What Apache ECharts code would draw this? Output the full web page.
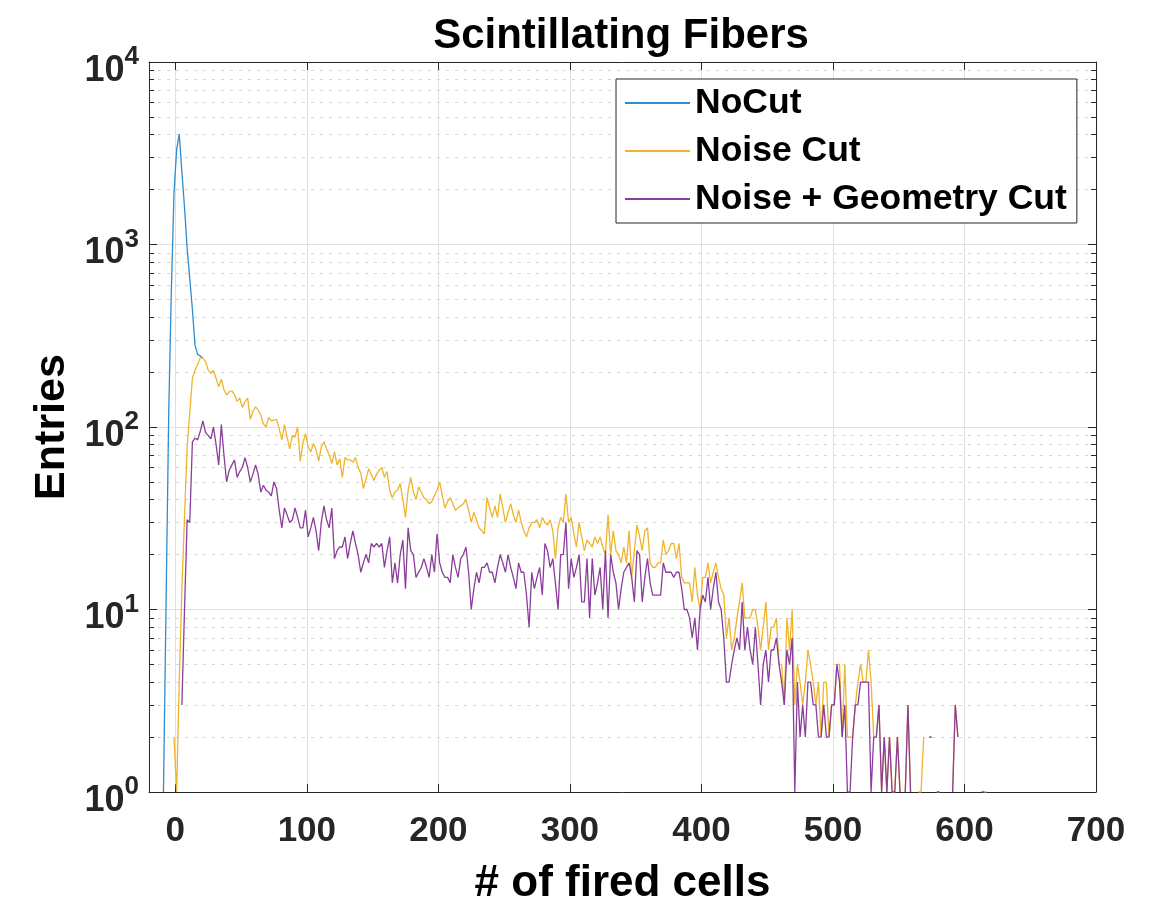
<!DOCTYPE html>
<html><head><meta charset="utf-8">
<script src="https://cdn.jsdelivr.net/npm/echarts@6/dist/echarts.min.js"></script>
<style>html,body{margin:0;padding:0;background:#fff}#c{width:1163px;height:901px}</style>
</head><body><div id="c"></div>
<script>
// ---- data (histogram bins, width 2, values = entries) ----
const binWidth = 2;

const noCutStart = -9;
const noCut = [1, 11, 120, 560, 1900, 3300, 4030, 2500, 1600, 950, 650, 440, 280, 250, 245, 238];

const noiseCutStart = -1;
const noiseCut = [
  2, 1, 4, 13, 32, 78, 120, 185, 205, 220,
  240, 238, 228, 205, 197, 204, 185, 166, 183, 160,
  150, 156, 158, 150, 138, 144, 128, 138, 144, 110,
  122, 129, 124, 116, 104, 100, 113, 108, 109, 110,
  98, 85, 103, 88, 76, 90, 88, 100, 65, 82,
  92, 78, 73, 81, 75, 65, 78, 83, 76, 70,
  63, 73, 62, 67, 53, 68, 66, 66, 64, 68,
  60, 56, 46, 52, 59, 55, 51, 55, 58, 60,
  53, 57, 45, 41, 44, 45, 49, 40, 32, 45,
  53, 44, 40, 47, 44, 41, 40, 38, 39, 42,
  45, 50, 42, 36, 39, 41, 38, 35, 36, 37,
  38, 40, 35, 30, 34, 31, 28, 27, 26, 41,
  36, 32, 37, 32, 43, 36, 30, 34, 38, 33,
  30, 35, 30, 27, 25, 28, 30, 30, 31, 28,
  32, 30, 29, 31, 27, 19, 28, 32, 30, 43,
  30, 32, 26, 22, 30, 25, 21, 24, 23, 22,
  25, 23, 25, 22, 20, 33, 20, 27, 21, 20,
  18, 22, 18, 27, 15, 21, 29, 25, 21, 27,
  28, 18, 17, 17, 18, 18, 24, 20, 21, 23,
  23, 19, 23, 15, 14, 14, 14, 11, 17, 12,
  10, 15, 15, 18, 14, 16, 18, 15, 13, 12,
  7, 9, 6, 7, 9, 11, 14, 9, 9, 9,
  10, 10, 8, 6, 8, 11, 6, 8, 8, 9,
  5, 5, 3, 9, 6, 10, 3, 5, 4, 3,
  4, 6, 5, 4, 3, 4, 2, 4, 4, 2,
  3, 3, 5, 5, 2, 5, 2, 2, 2, 3,
  4, 5, 4, 4, 6, 4, 2, 2, 3, 1,
  2, 1, 2, 1, 1, 2, 1, null, 1, 3,
  1, null, null, 1, 1, 2, null, 2, 2, null,
  1, 1, null, null, null, null, 1, 3, 2, null,
  null, null, null, null, null, null, null, null, 1, 1
];

const geomCutStart = 5;
const geomCut = [
  3, 10, 31, 30, 83, 87, 85, 95, 108, 93,
  90, 86, 100, 80, 62, 103, 70, 50, 58, 62,
  66, 53, 57, 60, 68, 60, 50, 55, 62, 55,
  44, 48, 45, 44, 42, 50, 46, 35, 28, 36,
  33, 30, 31, 36, 32, 28, 28, 35, 25, 28,
  32, 27, 21, 30, 37, 31, 28, 36, 19, 21,
  22, 22, 25, 19, 23, 27, 23, 20, 16, 18,
  20, 18, 23, 22, 23, 22, 23, 17, 21, 25,
  14, 18, 14, 20, 24, 13, 28, 21, 20, 15,
  16, 17, 19, 17, 15, 20, 16, 26, 18, 16,
  15, 15, 14, 20, 17, 15, 19, 20, 22, 16,
  10, 13, 16, 14, 17, 17, 18, 16, 16, 14,
  17, 20, 18, 16, 20, 17, 15, 13, 18, 16,
  16, 12, 8, 16, 13, 15, 17, 12, 23, 21,
  17, 19, 14, 10, 20, 20, 30, 13, 19, 15,
  17, 20, 11, 11, 19, 9, 19, 12, 14, 17,
  10, 21, 9, 20, 16, 14, 10, 13, 16, 17,
  18, 15, 11, 21, 20, 11, 15, 19, 14, 12,
  12, 12, 12, 18, 16, 16, 16, 15, 16, 16,
  13, 10, 10, 9, 7, 9, 6, 10, 12, 11,
  15, 10, 13, 16, 11, 10, 7, 4, 4, 5,
  6, 7, 6, 11, 6, 8, 6, 5, 8, 5,
  3, 5, 6, 4, 6, 6, 7, 5, 4, 3,
  6, 5, 7, 1, 4, 2, 3, 2, 4, 4,
  3, 3, 2, 2, 3, 2, 2, 3, 3, 5,
  4, 2, 3, 1, 1, 2, 3, 3, 4, 4,
  4, 4, 1, 2, 2, 3, 1, 2, 1, 2,
  1, 1, 2, 1, null, 1, 3, 1, null, null,
  null, null, null, null, 2, 2, null, 1, 1, null,
  null, null, null, 1, 3, 2, null, null, null, null,
  null, null, null, null, 1, 1
];

const seriesNames = ['NoCut', 'Noise Cut', 'Noise + Geometry Cut'];
const xTicks = [0, 100, 200, 300, 400, 500, 600, 700];
const yMinorTicks = [2,3,4,5,6,7,8,9,20,30,40,50,60,70,80,90,200,300,400,500,600,700,800,900,2000,3000,4000,5000,6000,7000,8000,9000];

// ---- chart ----
function toPairs(start, vals) { return vals.map((v, i) => [start + i * binWidth, v]); }
const FONT = 'Liberation Sans';
const AX = '#262626';
const chart = echarts.init(document.getElementById('c'), null, {renderer: 'canvas'});

const logAxisBase = {type: 'log', logBase: 10, min: 1, max: 10000, gridIndex: 0};
const valX = {type: 'value', min: -20, max: 700, gridIndex: 0};

chart.setOption({
  animation: false,
  backgroundColor: '#fff',
  title: {
    text: 'Scintillating Fibers', left: 616, top: 10, textAlign: 'center',
    textStyle: {fontFamily: FONT, fontWeight: 'bold', fontSize: 42, color: '#000'}
  },
  grid: {left: 149, right: 67, top: 62, bottom: 109, containLabel: false, outerBoundsMode: 'none'},
  legend: {
    orient: 'vertical', left: 616, top: 79, icon: 'rect', itemWidth: 65, itemHeight: 2,
    itemGap: 8, padding: [4, 10, 4, 9], borderColor: AX, borderWidth: 1, backgroundColor: '#fff',
    textStyle: {fontFamily: FONT, fontWeight: 'bold', fontSize: 35.5, color: '#000', lineHeight: 40},
    data: seriesNames
  },
  xAxis: [
    Object.assign({}, valX, {
      position: 'bottom',
      name: '# of fired cells', nameLocation: 'middle', nameGap: 70,
      nameTextStyle: {fontFamily: FONT, fontWeight: 'bold', fontSize: 44, color: '#000'},
      axisLine: {show: true, onZero: false, lineStyle: {color: AX, width: 1}},
      axisTick: {show: true, inside: true, length: 8, customValues: xTicks, lineStyle: {color: AX}},
      axisLabel: {customValues: xTicks, margin: 22, fontFamily: FONT, fontWeight: 'bold', fontSize: 35, color: AX},
      splitLine: {show: true, lineStyle: {color: '#dfdfdf', width: 1}}
    }),
    Object.assign({}, valX, {
      position: 'top',
      axisLine: {show: true, onZero: false, lineStyle: {color: AX, width: 1}},
      axisTick: {show: true, inside: true, length: 8, customValues: xTicks, lineStyle: {color: AX}},
      axisLabel: {show: false},
      splitLine: {show: false}
    })
  ],
  yAxis: [
    Object.assign({}, logAxisBase, {
      position: 'left',
      name: 'Entries', nameLocation: 'middle', nameGap: 75,
      nameTextStyle: {fontFamily: FONT, fontWeight: 'bold', fontSize: 43, color: '#000'},
      axisLine: {show: true, onZero: false, lineStyle: {color: AX, width: 1}},
      axisTick: {show: true, inside: true, length: 8, lineStyle: {color: AX}},
      axisLabel: {
        margin: 10,
        formatter: v => '{b|10}{s|' + Math.round(Math.log10(v)) + '}',
        rich: {
          b: {fontFamily: FONT, fontWeight: 'bold', fontSize: 36, color: AX, padding: [18, 0, 0, 0]},
          s: {fontFamily: FONT, fontWeight: 'bold', fontSize: 26, color: AX, padding: [0, 0, 10, 0]}
        }
      },
      splitLine: {show: true, lineStyle: {color: '#dfdfdf', width: 1}}
    }),
    Object.assign({}, logAxisBase, {
      position: 'left',
      axisLine: {show: false, onZero: false},
      axisTick: {show: true, inside: true, length: 5, customValues: yMinorTicks, lineStyle: {color: AX}},
      axisLabel: {show: false},
      splitLine: {show: true, lineStyle: {color: '#d6d6d6', width: 1, type: [3, 6]}}
    }),
    Object.assign({}, logAxisBase, {
      position: 'right',
      axisLine: {show: true, onZero: false, lineStyle: {color: AX, width: 1}},
      axisTick: {show: true, inside: true, length: 8, lineStyle: {color: AX}},
      axisLabel: {show: false},
      splitLine: {show: false}
    }),
    Object.assign({}, logAxisBase, {
      position: 'right',
      axisLine: {show: false, onZero: false},
      axisTick: {show: true, inside: true, length: 5, customValues: yMinorTicks, lineStyle: {color: AX}},
      axisLabel: {show: false},
      splitLine: {show: false}
    })
  ],
  series: [
    {name: seriesNames[0], type: 'line', xAxisIndex: 0, yAxisIndex: 0, data: toPairs(noCutStart, noCut),
     showSymbol: false, symbol: 'none', connectNulls: false, color: '#2f8ccf', lineStyle: {width: 1.3, color: '#2f8ccf'}},
    {name: seriesNames[1], type: 'line', xAxisIndex: 0, yAxisIndex: 0, data: toPairs(noiseCutStart, noiseCut),
     showSymbol: false, symbol: 'none', connectNulls: false, color: '#EFB42C', lineStyle: {width: 1.3, color: '#EFB42C'}},
    {name: seriesNames[2], type: 'line', xAxisIndex: 0, yAxisIndex: 0, data: toPairs(geomCutStart, geomCut),
     showSymbol: false, symbol: 'none', connectNulls: false, color: '#8B3D9B', lineStyle: {width: 1.3, color: '#8B3D9B'}}
  ]
});
</script>
</body></html>
